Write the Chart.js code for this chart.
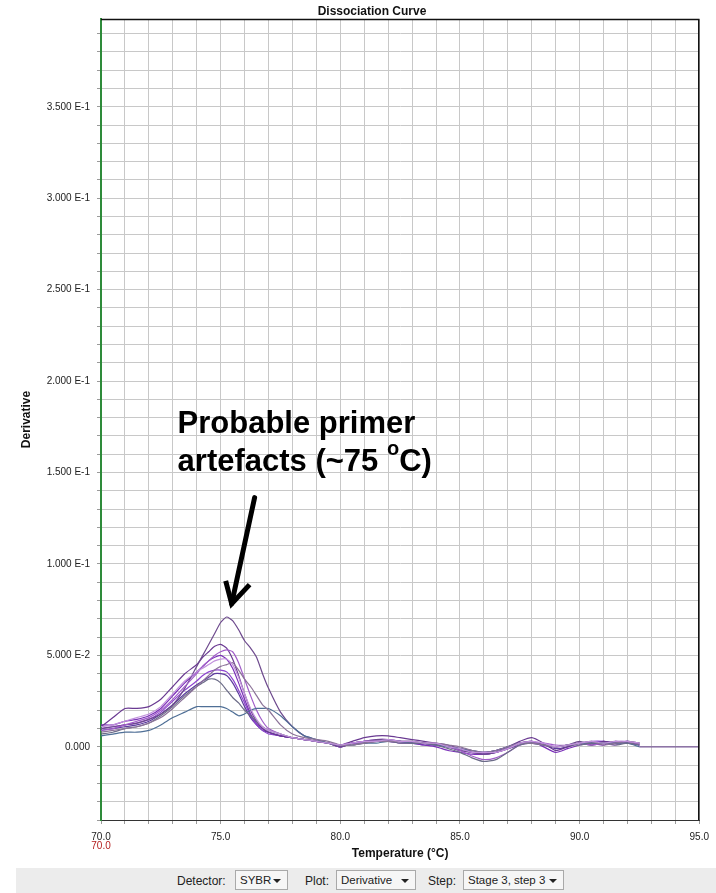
<!DOCTYPE html>
<html>
<head>
<meta charset="utf-8">
<script src="https://cdn.jsdelivr.net/npm/chart.js@4/dist/chart.umd.min.js"></script>
<style>
  html, body { margin: 0; padding: 0; background: #ffffff; }
  body { width: 716px; height: 893px; position: relative; overflow: hidden; font-family: "Liberation Sans", Arial, sans-serif; }
  #chart { position: absolute; left: 0; top: 0; }
  #toolbar { position: absolute; left: 16px; top: 868px; width: 700px; height: 25px; background: #ececec; }
  .lbl { position: absolute; top: 6px; font-size: 12px; color: #222; }
  .box { position: absolute; top: 2px; height: 20px; border: 1px solid #a9a9a9; background: #f6f6f6; box-sizing: border-box; font-size: 11.5px; color: #222; line-height: 18px; padding-left: 4px; }
  .arr { position: absolute; right: 6px; top: 8px; width: 0; height: 0; border-left: 4px solid transparent; border-right: 4px solid transparent; border-top: 4px solid #222; }
</style>
</head>
<body>
<canvas id="chart" width="716" height="866"></canvas>
<div id="toolbar">
  <span class="lbl" style="left:161px">Detector:</span>
  <div class="box" style="left:219px;width:53px">SYBR<span class="arr"></span></div>
  <span class="lbl" style="left:289px">Plot:</span>
  <div class="box" style="left:320px;width:80px">Derivative<span class="arr"></span></div>
  <span class="lbl" style="left:412px">Step:</span>
  <div class="box" style="left:447px;width:101px">Stage 3, step 3<span class="arr"></span></div>
</div>
<script>
// ---------- DATA ----------
const chartTitle = 'Dissociation Curve';
const xAxisTitle = 'Temperature (°C)';
const yAxisTitle = 'Derivative';

const temperatures = [70, 70.5, 71, 71.5, 72, 72.5, 73, 73.5, 74,
  74.25, 74.5, 74.75, 75, 75.25, 75.5, 75.75, 76, 76.25, 76.5, 76.75, 77,
  77.5, 78, 78.5, 79, 79.5, 80, 80.5, 81, 81.5, 82, 82.5, 83, 83.5, 84, 84.5,
  85, 85.5, 86, 86.5, 87, 87.5, 88, 88.5, 89, 89.5, 90, 90.5, 91, 91.5, 92, 92.5];

const well1 = [0.010,0.011,0.012,0.013,0.015,0.018,0.023,0.032,0.044,
  0.050,0.056,0.062,0.068,0.071,0.069,0.064,0.058,0.054,0.049,0.040,0.032,
  0.019,0.011,0.006,0.004,0.002,0.000,
  0.002,0.003,0.004,0.004,0.003,0.003,0.002,0.001,0.000,-0.002,-0.003,-0.004,-0.003,-0.001,0.002,0.003,0.001,0.000,0.001,0.003,0.001,0.002,0.003,0.002,0.002];
const well2 = [0.011,0.016,0.021,0.021,0.022,0.026,0.033,0.040,0.045,
  0.049,0.052,0.055,0.056,0.054,0.048,0.039,0.029,0.020,0.014,0.010,0.008,
  0.006,0.005,0.004,0.003,0.002,0.001,
  0.003,0.005,0.006,0.006,0.005,0.004,0.003,0.002,0.001,-0.001,-0.002,-0.003,-0.002,0.000,0.003,0.005,0.002,-0.002,0.000,0.002,0.001,0.003,0.002,0.003,0.002];
const well3 = [0.009,0.010,0.012,0.014,0.016,0.020,0.026,0.033,0.040,
  0.044,0.047,0.050,0.052,0.053,0.052,0.046,0.037,0.028,0.020,0.014,0.010,
  0.007,0.005,0.004,0.003,0.002,0.001,
  0.002,0.003,0.003,0.003,0.003,0.002,0.002,0.001,0.000,-0.002,-0.005,-0.007,-0.006,-0.003,0.001,0.002,0.002,0.001,0.001,0.002,0.001,0.002,0.001,0.003,0.001];
const well4 = [0.012,0.012,0.014,0.015,0.017,0.021,0.028,0.035,0.041,
  0.044,0.047,0.049,0.050,0.048,0.043,0.035,0.026,0.018,0.013,0.010,0.008,
  0.006,0.005,0.004,0.003,0.002,0.000,
  0.002,0.002,0.003,0.003,0.002,0.002,0.001,0.000,-0.002,-0.003,-0.004,-0.004,-0.003,-0.001,0.002,0.003,0.000,-0.003,-0.001,0.001,0.002,0.001,0.003,0.002,0.001];
const well5 = [0.008,0.009,0.010,0.011,0.013,0.016,0.021,0.027,0.033,
  0.036,0.039,0.042,0.044,0.045,0.046,0.042,0.037,0.033,0.028,0.023,0.020,
  0.012,0.007,0.005,0.004,0.003,0.001,
  0.001,0.002,0.003,0.003,0.003,0.003,0.002,0.002,0.001,0.000,-0.002,-0.003,-0.002,0.000,0.002,0.002,0.001,0.000,0.001,0.002,0.003,0.001,0.002,0.003,0.002];
const well6 = [0.010,0.011,0.012,0.013,0.015,0.019,0.025,0.031,0.036,
  0.039,0.041,0.042,0.042,0.041,0.037,0.031,0.024,0.017,0.012,0.009,0.007,
  0.006,0.005,0.004,0.003,0.002,0.001,
  0.002,0.003,0.004,0.004,0.003,0.002,0.002,0.001,0.000,-0.001,-0.003,-0.003,-0.002,0.000,0.002,0.002,0.001,0.000,0.001,0.002,0.003,0.003,0.002,0.003,0.001];
const well7 = [0.009,0.010,0.011,0.012,0.014,0.018,0.023,0.029,0.034,
  0.036,0.038,0.040,0.040,0.039,0.035,0.029,0.022,0.016,0.012,0.009,0.008,
  0.006,0.005,0.004,0.003,0.002,0.000,
  0.002,0.003,0.003,0.003,0.003,0.002,0.001,0.001,0.000,-0.002,-0.003,-0.004,-0.003,-0.001,0.001,0.003,0.001,-0.001,0.000,0.002,0.002,0.003,0.002,0.003,0.001];
const well8 = [0.007,0.008,0.010,0.011,0.013,0.017,0.022,0.028,0.033,
  0.035,0.037,0.037,0.035,0.031,0.027,0.024,0.020,0.017,0.014,0.011,0.009,
  0.007,0.005,0.004,0.003,0.002,0.001,
  0.001,0.002,0.003,0.003,0.002,0.002,0.002,0.001,-0.001,-0.003,-0.006,-0.008,-0.007,-0.003,0.001,0.002,0.001,0.000,0.001,0.001,0.002,0.002,0.001,0.002,0.001];
const well9 = [0.006,0.007,0.008,0.008,0.009,0.012,0.016,0.019,0.022,
  0.022,0.022,0.022,0.022,0.021,0.019,0.017,0.018,0.020,0.021,0.021,0.021,
  0.017,0.011,0.006,0.004,0.002,0.001,
  0.001,0.002,0.002,0.003,0.003,0.002,0.002,0.001,0.000,-0.001,-0.002,-0.003,-0.002,0.000,0.002,0.002,0.001,0.000,0.001,0.002,0.002,0.002,0.002,0.002,0.000];
const well10 = [0.011,0.012,0.014,0.016,0.018,0.022,0.029,0.036,0.041,
  0.043,0.045,0.047,0.048,0.048,0.045,0.038,0.029,0.021,0.015,0.011,0.009,
  0.007,0.005,0.004,0.003,0.002,0.001,
  0.002,0.003,0.003,0.004,0.003,0.003,0.002,0.002,0.000,-0.001,-0.003,-0.003,-0.003,-0.001,0.002,0.003,0.002,0.000,0.001,0.002,0.003,0.002,0.003,0.003,0.002];

const tailTemperatures = [92.5, 95];
const tailValues = [0.000, 0.000];

const wellSeries = [well10, well5, well8, well9, well3, well1, well2, well4, well6, well7];
const wellColors = ['#c292dc', '#8c7399', '#6c6c88', '#4f6f96', '#a05cc8', '#6e4a8e', '#6a3a92', '#7a2fb8', '#8e44d0', '#5c3a9e'];

const yLabelValues = [0, 0.05, 0.1, 0.15, 0.2, 0.25, 0.3, 0.35];
const yLabelTexts = ['0.000', '5.000 E-2', '1.000 E-1', '1.500 E-1', '2.000 E-1', '2.500 E-1', '3.000 E-1', '3.500 E-1'];
const xLabelValues = [70, 75, 80, 85, 90, 95];
const xLabelTexts = ['70.0', '75.0', '80.0', '85.0', '90.0', '95.0'];

const annotationLines = ['Probable primer', 'artefacts (~75 '];
// ---------- CHART ----------
const FONT = '"Liberation Sans", Arial, sans-serif';

const datasets = wellSeries.map((s, i) => ({
  data: temperatures.map((t, j) => ({ x: t, y: s[j] })),
  borderColor: wellColors[i],
  borderWidth: 1.2,
  pointRadius: 0,
  tension: 0.2,
  fill: false
}));
datasets.push({
  data: tailTemperatures.map((t, j) => ({ x: t, y: tailValues[j] })),
  borderColor: '#7a5a9a', borderWidth: 1.2, pointRadius: 0, fill: false
});

function findLabel(values, texts, v) {
  for (let i = 0; i < values.length; i++) {
    if (Math.abs(values[i] - v) < 1e-7) return texts[i];
  }
  return '';
}

const overlay = {
  id: 'overlay',
  afterDraw(chart) {
    const ctx = chart.ctx;
    const ca = chart.chartArea;
    const xs = chart.scales.x, ys = chart.scales.y;
    ctx.save();
    // top & right frame
    ctx.strokeStyle = '#111';
    ctx.lineWidth = 1.5;
    ctx.beginPath();
    ctx.moveTo(ca.left, ca.top + 0.5);
    ctx.lineTo(ca.right - 0.5, ca.top + 0.5);
    ctx.lineTo(ca.right - 0.5, ca.bottom);
    ctx.stroke();
    // title
    ctx.fillStyle = '#111';
    ctx.font = 'bold 12px ' + FONT;
    ctx.textAlign = 'center';
    ctx.textBaseline = 'middle';
    ctx.fillText(chartTitle, 372, 12);
    // red start label
    ctx.font = '10px ' + FONT;
    ctx.fillStyle = '#b42020';
    ctx.fillText(xLabelTexts[0], xs.getPixelForValue(70), 846);
    // annotation text
    ctx.fillStyle = '#000';
    ctx.textAlign = 'left';
    ctx.textBaseline = 'alphabetic';
    const tx = xs.getPixelForValue(73.2);
    ctx.font = 'bold 31px ' + FONT;
    ctx.fillText(annotationLines[0], tx, ys.getPixelForValue(0.1714));
    const by2 = ys.getPixelForValue(0.1508);
    ctx.fillText(annotationLines[1], tx, by2);
    let w = ctx.measureText(annotationLines[1]).width;
    ctx.font = 'bold 20px ' + FONT;
    ctx.fillText('o', tx + w, by2 - 16);
    w += ctx.measureText('o').width;
    ctx.font = 'bold 31px ' + FONT;
    ctx.fillText('C)', tx + w, by2);
    // arrow
    ctx.strokeStyle = '#000';
    ctx.lineWidth = 5;
    ctx.lineCap = 'round';
    ctx.lineJoin = 'miter';
    const p = (x, y) => [xs.getPixelForValue(x), ys.getPixelForValue(y)];
    const a0 = p(76.42, 0.1363), a1 = p(75.46, 0.0782), wl = p(75.21, 0.0908), wr = p(76.21, 0.0887);
    ctx.beginPath();
    ctx.moveTo(a0[0], a0[1]); ctx.lineTo(a1[0], a1[1]);
    ctx.stroke();
    ctx.lineCap = 'butt';
    ctx.beginPath();
    ctx.moveTo(wl[0], wl[1]); ctx.lineTo(a1[0], a1[1]); ctx.lineTo(wr[0], wr[1]);
    ctx.stroke();
    ctx.restore();
  }
};

new Chart(document.getElementById('chart'), {
  type: 'line',
  data: { datasets },
  options: {
    responsive: false,
    animation: false,
    layout: { padding: { left: 0, right: 15, top: 19, bottom: 0 } },
    plugins: { legend: { display: false }, tooltip: { enabled: false }, title: { display: false } },
    scales: {
      x: {
        type: 'linear', min: 70, max: 95,
        afterFit(s) { s.height = 46; },
        ticks: {
          stepSize: 1, autoSkip: false, maxRotation: 0, minRotation: 0, padding: 7,
          color: '#222', font: { family: FONT, size: 10 },
          callback: (v) => findLabel(xLabelValues, xLabelTexts, v)
        },
        grid: { color: '#c8c8c8', lineWidth: 1, tickLength: 4, tickColor: '#9a9a9a' },
        border: { color: '#333', width: 1 },
        title: { display: true, text: xAxisTitle, color: '#111', font: { family: FONT, size: 12, weight: 'bold' }, padding: { top: 0, bottom: 5 } }
      },
      y: {
        type: 'linear', min: -0.04, max: 0.398,
        afterFit(s) { s.width = 101; },
        ticks: {
          stepSize: 0.01, autoSkip: false, includeBounds: false, padding: 7,
          color: '#222', font: { family: FONT, size: 10 },
          callback: (v) => findLabel(yLabelValues, yLabelTexts, v)
        },
        grid: { color: '#c8c8c8', lineWidth: 1, tickLength: 4, tickColor: '#9a9a9a' },
        border: { color: '#2e8b3a', width: 2 },
        title: { display: true, text: yAxisTitle, color: '#111', font: { family: FONT, size: 12, weight: 'bold' }, padding: { top: 19, bottom: 0 } }
      }
    }
  },
  plugins: [overlay]
});
</script>
</body>
</html>
